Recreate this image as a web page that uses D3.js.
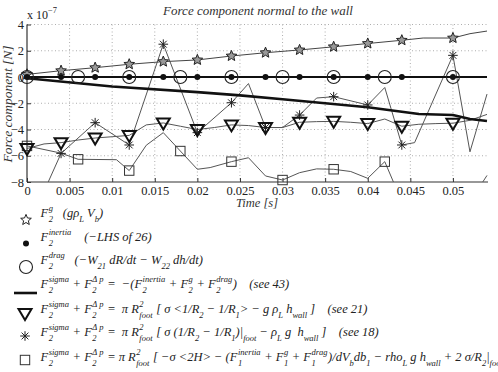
<!DOCTYPE html>
<html><head><meta charset="utf-8">
<script src="https://cdn.jsdelivr.net/npm/d3@7"></script>
<style>body{margin:0;background:#fff}text{white-space:pre;font-family:"Liberation Serif","Tinos","Times New Roman",Times,"Nimbus Roman","DejaVu Serif",serif}</style></head>
<body><svg id="c" width="498" height="372"></svg>
<script>
// ---------- data ----------
const xTicks = [0,0.005,0.01,0.015,0.02,0.025,0.03,0.035,0.04,0.045,0.05];
const xTickLabels = ["0","0.005","0.01","0.015","0.02","0.025","0.03","0.035","0.04","0.045","0.05"];
const yTicks = [4,2,0,-2,-4,-6,-8];
const yTickLabels = ["4","2","0","\u22122","\u22124","\u22126","\u22128"];

// F2^g (stars)
const gT = [0,0.004,0.008,0.012,0.016,0.020,0.024,0.028,0.032,0.036,0.040,0.044,0.0465,0.050,0.052,0.054];
const gV = [0.2,0.48,0.71,0.97,1.17,1.3,1.6,1.85,2.06,2.3,2.55,2.8,2.97,2.97,3.3,3.5];
const gMark = [0,1,2,3,4,5,6,7,8,9,10,11,13];
// F2^inertia (dots)
const inT = [0,0.004,0.008,0.012,0.016,0.020,0.024,0.028,0.032,0.036,0.040,0.044,0.050,0.054];
const inV = [0,0,0,0,0,0,0,0,0,0,0,0,0,0];
const inMark = [0,1,2,3,4,5,6,7,8,9,10,11,12];
// F2^drag (circles)
const drT = [0,0.006,0.012,0.018,0.024,0.030,0.036,0.042,0.050,0.054];
const drV = [0,0,0,0,0,0,0,0,0,0];
const drMark = [0,1,2,3,4,5,6,7,8];
// see 43 (thick line)
const s43T = [0,0.01,0.02,0.025,0.03,0.035,0.04,0.046,0.05,0.052,0.054];
const s43V = [-0.1,-0.72,-1.15,-1.4,-1.7,-2.0,-2.3,-2.82,-2.9,-3.2,-3.35];
// see 21 (triangles)
const s21T = [0,0.002,0.004,0.006,0.008,0.010,0.012,0.014,0.016,0.018,0.020,0.022,0.024,0.026,0.028,0.030,0.032,0.034,0.036,0.038,0.040,0.042,0.044,0.046,0.048,0.050,0.052,0.054];
const s21V = [-5.45,-5.1,-5.0,-4.8,-4.65,-4.55,-4.45,-3.65,-3.5,-3.75,-4.0,-3.85,-3.65,-3.7,-3.85,-3.85,-3.45,-3.4,-3.38,-3.45,-3.55,-3.2,-3.75,-3.6,-3.55,-3.52,-3.3,-2.85];
const s21Mark = [0,2,4,6,8,10,12,14,16,18,20,22,25];
// see 18 (asterisks)
const s18T = [0,0.004,0.008,0.012,0.016,0.020,0.024,0.026,0.028,0.030,0.032,0.034,0.036,0.040,0.042,0.044,0.0455,0.050,0.052,0.054];
const s18V = [-11.6,-5.82,-3.48,-5.18,2.5,-4.24,-1.96,-0.5,-3.85,-3.85,-2.9,-1.6,-1.5,-2.13,-0.8,-5.18,-5.0,1.65,-5.7,-1.3];
const s18Mark = [0,1,2,3,4,5,6,8,10,12,13,15,17];
// squares
const sqT = [0,0.004,0.006,0.0105,0.012,0.014,0.016,0.018,0.020,0.0215,0.024,0.026,0.028,0.030,0.032,0.034,0.036,0.038,0.040,0.042,0.044,0.048,0.052,0.054];
const sqV = [-5.25,-5.8,-6.27,-6.3,-7.13,-5.2,-4.24,-5.64,-7.03,-6.9,-6.45,-6.15,-7.54,-7.85,-7.29,-7.0,-7.03,-7.2,-7.72,-6.45,-9.5,-10.5,-9.5,-7.5];
const sqMark = [0,2,4,7,10,13,16,19,21];

const legendTexts = [
  "F^{g}_{2}   (gρ_{L} V_{b})",
  "F^{inertia}_{2}    (\u2212LHS of 26)",
  "F^{drag}_{2}   (\u2212W_{21} dR/dt \u2212 W_{22} dh/dt)",
  "F^{sigma}_{2} + F^{\u0394 p}_{2} =  \u2212(F^{inertia}_{2} + F^{g}_{2} + F^{drag}_{2})    (see 43)",
  "F^{sigma}_{2} + F^{\u0394 p}_{2} =  π R^{2}_{foot} [ σ <1/R_{2} \u2212 1/R_{1}> \u2212 g ρ_{L} h_{wall} ]    (see 21)",
  "F^{sigma}_{2} + F^{\u0394 p}_{2} =  π R^{2}_{foot} [ σ (1/R_{2} \u2212 1/R_{1})|_{foot} \u2212 ρ_{L} g  h_{wall} ]    (see 18)",
  "F^{sigma}_{2} + F^{\u0394 p}_{2} = π R^{2}_{foot} [ \u2212σ <2H> \u2212 (F^{inertia}_{1} + F^{g}_{1} + F^{drag}_{1})/dV_{b}db_{1} \u2212 rho_{L} g h_{wall} + 2 σ/R_{2}|_{foot}"
];
const legendKinds = ["star","dot","circle","line","tri","ast","square"];

// ---------- drawing ----------
const svg = d3.select("#c");
const X0 = 27, X1 = 487, Y0 = 24.5, Y1 = 182;
const x = d3.scaleLinear().domain([0,0.054]).range([X0,X1]);
const y = d3.scaleLinear().domain([-8,4]).range([Y1,Y0]);
const ink = "#222";

const defs = svg.append("defs");
defs.append("clipPath").attr("id","cp").append("rect").attr("x",X0).attr("y",Y0-2).attr("width",X1-X0+1).attr("height",Y1-Y0+2);
defs.append("clipPath").attr("id","cpm").append("rect").attr("x",0).attr("y",10).attr("width",498).attr("height",Y1);

// grid
const grid = svg.append("g").attr("stroke","#999").attr("stroke-width",0.8).attr("stroke-dasharray","1,2.5");
xTicks.filter(t=>t>0).forEach(t=>grid.append("line").attr("x1",x(t)).attr("x2",x(t)).attr("y1",Y0).attr("y2",Y1));
yTicks.filter(v=>v>-8).forEach(v=>grid.append("line").attr("x1",X0).attr("x2",X1+1).attr("y1",y(v)).attr("y2",y(v)));

// axes
const xa = svg.append("g").attr("transform",`translate(0,${Y1})`)
  .call(d3.axisBottom(x).tickValues(xTicks).tickFormat((d,i)=>xTickLabels[i]).tickSize(-4).tickSizeOuter(0).tickPadding(4));
const ya = svg.append("g").attr("transform",`translate(${X0},0)`)
  .call(d3.axisLeft(y).tickValues(yTicks).tickFormat((d,i)=>yTickLabels[i]).tickSize(-4).tickSizeOuter(0).tickPadding(3));
[xa,ya].forEach(a=>{
  a.attr("font-family",null);
  a.select(".domain").attr("stroke","#333").attr("stroke-width",1.2);
  a.selectAll(".tick line").attr("stroke","#333");
  a.selectAll("text").attr("font-size",12.5).attr("fill",ink);
});
xa.select(".domain").attr("d",`M${X0},0H${X1+1}`);
ya.select(".domain").attr("d",`M0,${Y1}V${Y0}`);

// line series
const lines = svg.append("g").attr("clip-path","url(#cp)");
function drawLine(T,V,w,col){
  const pts = T.map((t,i)=>[t,V[i]]);
  lines.append("path").attr("d",d3.line().x(d=>x(d[0])).y(d=>y(d[1]))(pts))
    .attr("fill","none").attr("stroke",col).attr("stroke-width",w).attr("stroke-linejoin","round");
}
drawLine(sqT,sqV,1,"#555");
drawLine(s18T,s18V,1,"#555");
drawLine(s21T,s21V,1,"#555");
drawLine(gT,gV,1,"#444");
drawLine(s43T,s43V,2.6,"#111");
drawLine(inT,inV,2,"#111");
drawLine(drT,drV,1,"#111");

// marker shapes
function starPath(R,r){
  let p=[];
  for(let i=0;i<10;i++){const a=-Math.PI/2+i*Math.PI/5;const rr=i%2?r:R;p.push([rr*Math.cos(a),rr*Math.sin(a)]);}
  return "M"+p.map(q=>q[0].toFixed(2)+","+q[1].toFixed(2)).join("L")+"Z";
}
function marker(g,kind,cx,cy,fillStar){
  const m = g.append("g").attr("transform",`translate(${cx},${cy})`);
  if(kind==="star") m.append("path").attr("d",starPath(5.6,2.5)).attr("fill",fillStar||"#999").attr("stroke","#222").attr("stroke-width",1);
  if(kind==="dot") m.append("circle").attr("r",3).attr("fill","#111");
  if(kind==="circle") m.append("circle").attr("r",6.5).attr("fill","none").attr("stroke","#222").attr("stroke-width",1.1);
  if(kind==="tri") m.append("path").attr("d","M-6.5,-4.5L6.5,-4.5L0,6.5Z").attr("fill","none").attr("stroke","#111").attr("stroke-width",2);
  if(kind==="ast"){
    [0,45,90,135].forEach(a=>{const r=4.8,c=Math.cos(a*Math.PI/180)*r,s=Math.sin(a*Math.PI/180)*r;
      m.append("line").attr("x1",-c).attr("y1",-s).attr("x2",c).attr("y2",s).attr("stroke","#222").attr("stroke-width",1);});
  }
  if(kind==="square") m.append("rect").attr("x",-4.7).attr("y",-4.7).attr("width",9.4).attr("height",9.4).attr("fill","none").attr("stroke","#333").attr("stroke-width",1);
}
const marks = svg.append("g").attr("clip-path","url(#cpm)");
function drawMarks(T,V,idx,kind){ idx.forEach(i=>marker(marks,kind,x(T[i]),y(V[i]))); }
drawMarks(sqT,sqV,sqMark,"square");
drawMarks(s18T,s18V,s18Mark,"ast");
drawMarks(s21T,s21V,s21Mark,"tri");
drawMarks(gT,gV,gMark,"star");
drawMarks(inT,inV,inMark,"dot");
drawMarks(drT,drV,drMark,"circle");

// titles
svg.append("text").attr("x",258).attr("y",15).attr("text-anchor","middle")
  .attr("font-style","italic").attr("font-size",13).attr("fill","#333").text("Force component normal to the wall");
svg.append("text").attr("x",257).attr("y",207).attr("text-anchor","middle")
  .attr("font-style","italic").attr("font-size",12.5).attr("fill","#333").text("Time [s]");
svg.append("text").attr("transform","translate(12,104) rotate(-90)").attr("text-anchor","middle")
  .attr("font-style","italic").attr("font-size",13.5).attr("fill","#333").text("Force component [N]");
const ex = svg.append("text").attr("x",27).attr("y",19).attr("font-size",12).attr("fill",ink);
ex.append("tspan").text("x 10");
ex.append("tspan").attr("dy",-6).attr("font-size",8.5).text("\u22127");

// rich text layout
function parse(s){
  const out=[]; let i=0, buf="";
  const flush=()=>{ if(buf){out.push({k:"n",t:buf}); buf="";} };
  const grab=()=>{ const j=s.indexOf("}",i+2); const t=s.slice(i+2,j); i=j+1; return t; };
  while(i<s.length){
    const c=s[i];
    if((c==="^"||c==="_") && s[i+1]==="{"){
      flush();
      const first=c; const t1=grab();
      const other = first==="^"?"_":"^";
      if(s[i]===other && s[i+1]==="{"){ const t2=grab();
        out.push({k:"stack",sup:first==="^"?t1:t2,sub:first==="^"?t2:t1});
      } else out.push({k:first==="^"?"sup":"sub",t:t1});
    } else { buf+=c; i++; }
  }
  flush(); return out;
}
function rich(g,x0,yb,str){
  let cx=x0;
  const mk=(t,dx,dy,fs)=>{const e=g.append("text").attr("x",cx+dx).attr("y",yb+dy)
     .attr("font-style","italic").attr("font-size",fs).attr("fill",ink).text(t); return e.node().getComputedTextLength();};
  parse(str).forEach(s=>{
    if(s.k==="n") cx+=mk(s.t,0,0,12.5);
    else if(s.k==="sup") cx+=mk(s.t,0,-6,8.5);
    else if(s.k==="sub") cx+=mk(s.t,0,5,8.5);
    else { const w1=mk(s.sup,0.5,-6,8.5), w2=mk(s.sub,0.5,5,8.5); cx+=Math.max(w1,w2)+1; }
  });
}
const leg = svg.append("g");
const symY = [220,243.5,267,293,313.5,336,360];
const txtY = [217,240.7,264,288,312.5,336,361];
legendTexts.forEach((s,i)=>{
  const k=legendKinds[i];
  if(k==="line") leg.append("line").attr("x1",14).attr("x2",37).attr("y1",symY[i]).attr("y2",symY[i]).attr("stroke","#111").attr("stroke-width",2.6);
  else if(k==="tri"||k==="ast"||k==="square") marker(leg,k,25,symY[i]);
  else marker(leg,k,26,symY[i],"#fff");
  rich(leg,40.5,txtY[i],s);
});
</script></body></html>
